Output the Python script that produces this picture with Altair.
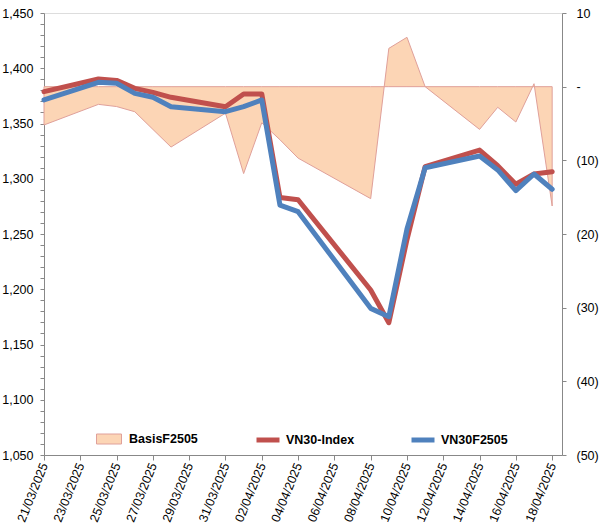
import altair as alt
import pandas as pd

dates = ["2025-03-21", "2025-03-24", "2025-03-25", "2025-03-26", "2025-03-27",
         "2025-03-28", "2025-03-31", "2025-04-01", "2025-04-02", "2025-04-03",
         "2025-04-04", "2025-04-08", "2025-04-09", "2025-04-10", "2025-04-11",
         "2025-04-14", "2025-04-15", "2025-04-16", "2025-04-17", "2025-04-18"]

vn30_index = [1378.8, 1390.3, 1389.0, 1381.8, 1378.2, 1373.7, 1365.2, 1376.7, 1376.7, 1283.0,
              1281.0, 1199.3, 1169.7, 1245.0, 1311.0, 1326.0, 1311.8, 1295.0, 1304.3, 1306.4]

vn30f2505 = [1371.3, 1387.3, 1386.4, 1377.3, 1373.7, 1365.2, 1360.7, 1365.2, 1371.3, 1276.2,
             1270.2, 1182.7, 1175.2, 1254.5, 1310.0, 1320.6, 1308.0, 1289.2, 1304.3, 1290.5]

basis = [-5.2, -2.4, -2.7, -3.4, -5.8, -8.2, -3.6, -11.8, -4.9, -7.2,
         -9.7, -15.2, 5.2, 6.7, 0.0, -5.8, -2.8, -4.8, 0.4, -16.2]

tick_dates = ["2025-03-21", "2025-03-23", "2025-03-25", "2025-03-27", "2025-03-29",
              "2025-03-31", "2025-04-02", "2025-04-04", "2025-04-06", "2025-04-08",
              "2025-04-10", "2025-04-12", "2025-04-14", "2025-04-16", "2025-04-18"]

series_names = ["VN30-Index", "VN30F2505"]
basis_name = "BasisF2505"

FONT = "Liberation Sans"
RED = "#C0504D"
BLUE = "#4F81BD"
FILL = "#FCD5B5"
EDGE = "#E0A09A"
AXIS = "#868686"


def ms(s):
    return int(pd.Timestamp(s, tz="UTC").value // 10**6)


area_df = pd.DataFrame({"date": dates, "basis": basis, "name": basis_name})
line_df = pd.concat([
    pd.DataFrame({"date": dates, "value": vn30_index, "series": series_names[0]}),
    pd.DataFrame({"date": dates, "value": vn30f2505, "series": series_names[1]}),
])

x_scale = alt.Scale(type="utc", domain=[ms("2025-03-21"), ms("2025-04-18T13:00:00")])
x_axis = alt.Axis(values=[ms(d) for d in tick_dates], format="%d/%m/%Y", title=None,
                  labelAngle=-68, labelAlign="right", labelBaseline="middle",
                  labelFont=FONT, labelFontSize=12.5,
                  tickSize=5, labelPadding=3, labelFlush=False, labelOverlap=False,
                  grid=False)

area = alt.Chart(area_df).mark_area(stroke=EDGE, strokeWidth=1, fillOpacity=1,
                                    interpolate="linear").encode(
    x=alt.X("date:T", scale=x_scale, axis=x_axis),
    y=alt.Y("basis:Q", scale=alt.Scale(domain=[-50, 10], nice=False, zero=False),
            axis=alt.Axis(orient="right", values=list(range(-50, 11, 10)), title=None,
                          labelExpr="datum.value > 0 ? format(datum.value, 'd') : (datum.value == 0 ? '-' : '(' + format(-datum.value, 'd') + ')')",
                          labelFont=FONT, labelFontSize=12.5,
                          tickSize=4, labelPadding=10, labelAlign="left",
                          labelOverlap=False, grid=False)),
    y2=alt.datum(0),
    fill=alt.Fill("name:N", scale=alt.Scale(domain=[basis_name], range=[FILL]),
                  legend=alt.Legend(orient="none", legendX=52, legendY=413, title=None,
                                    symbolType="M-1,-0.4L1,-0.4L1,0.4L-1,0.4Z",
                                    symbolSize=625, symbolStrokeColor=EDGE,
                                    symbolStrokeWidth=1, labelOffset=7,
                                    labelFont=FONT, labelFontSize=12.5,
                                    labelFontWeight="bold", padding=0)),
)

lines = alt.Chart(line_df).mark_line(strokeWidth=5, strokeCap="round",
                                     strokeJoin="round").encode(
    x=alt.X("date:T", scale=x_scale, axis=x_axis),
    y=alt.Y("value:Q", scale=alt.Scale(domain=[1050, 1450], nice=False, zero=False),
            axis=alt.Axis(orient="left", values=list(range(1050, 1451, 10)), title=None,
                          labelExpr="datum.value % 50 === 0 ? format(datum.value, ',') : ''",
                          labelFont=FONT, labelFontSize=12.5,
                          tickSize=4, labelPadding=7, labelOverlap=False, grid=False)),
    stroke=alt.Stroke("series:N", scale=alt.Scale(domain=series_names, range=[RED, BLUE]),
                      legend=alt.Legend(orient="none", legendX=210, legendY=413, title=None,
                                        direction="horizontal", columns=2, columnPadding=46,
                                        symbolType="stroke", symbolSize=529,
                                        symbolStrokeWidth=5, labelOffset=4,
                                        labelFont=FONT, labelFontSize=12.5,
                                        labelFontWeight="bold", padding=0)),
    order=alt.Order("series:N"),
)

chart = alt.layer(area, lines).resolve_scale(y="independent").properties(
    width=518, height=442,
    padding={"left": 44, "top": 13, "right": 42, "bottom": 71},
    autosize=alt.AutoSizeParams(type="none"),
).configure_view(stroke=None).configure_axis(
    domainColor=AXIS, tickColor=AXIS, labelColor="black",
    labelFont=FONT, labelFontSize=12.5,
).configure(background="white")

chart.save("out.html", embed_options={"renderer": "svg", "actions": False})
